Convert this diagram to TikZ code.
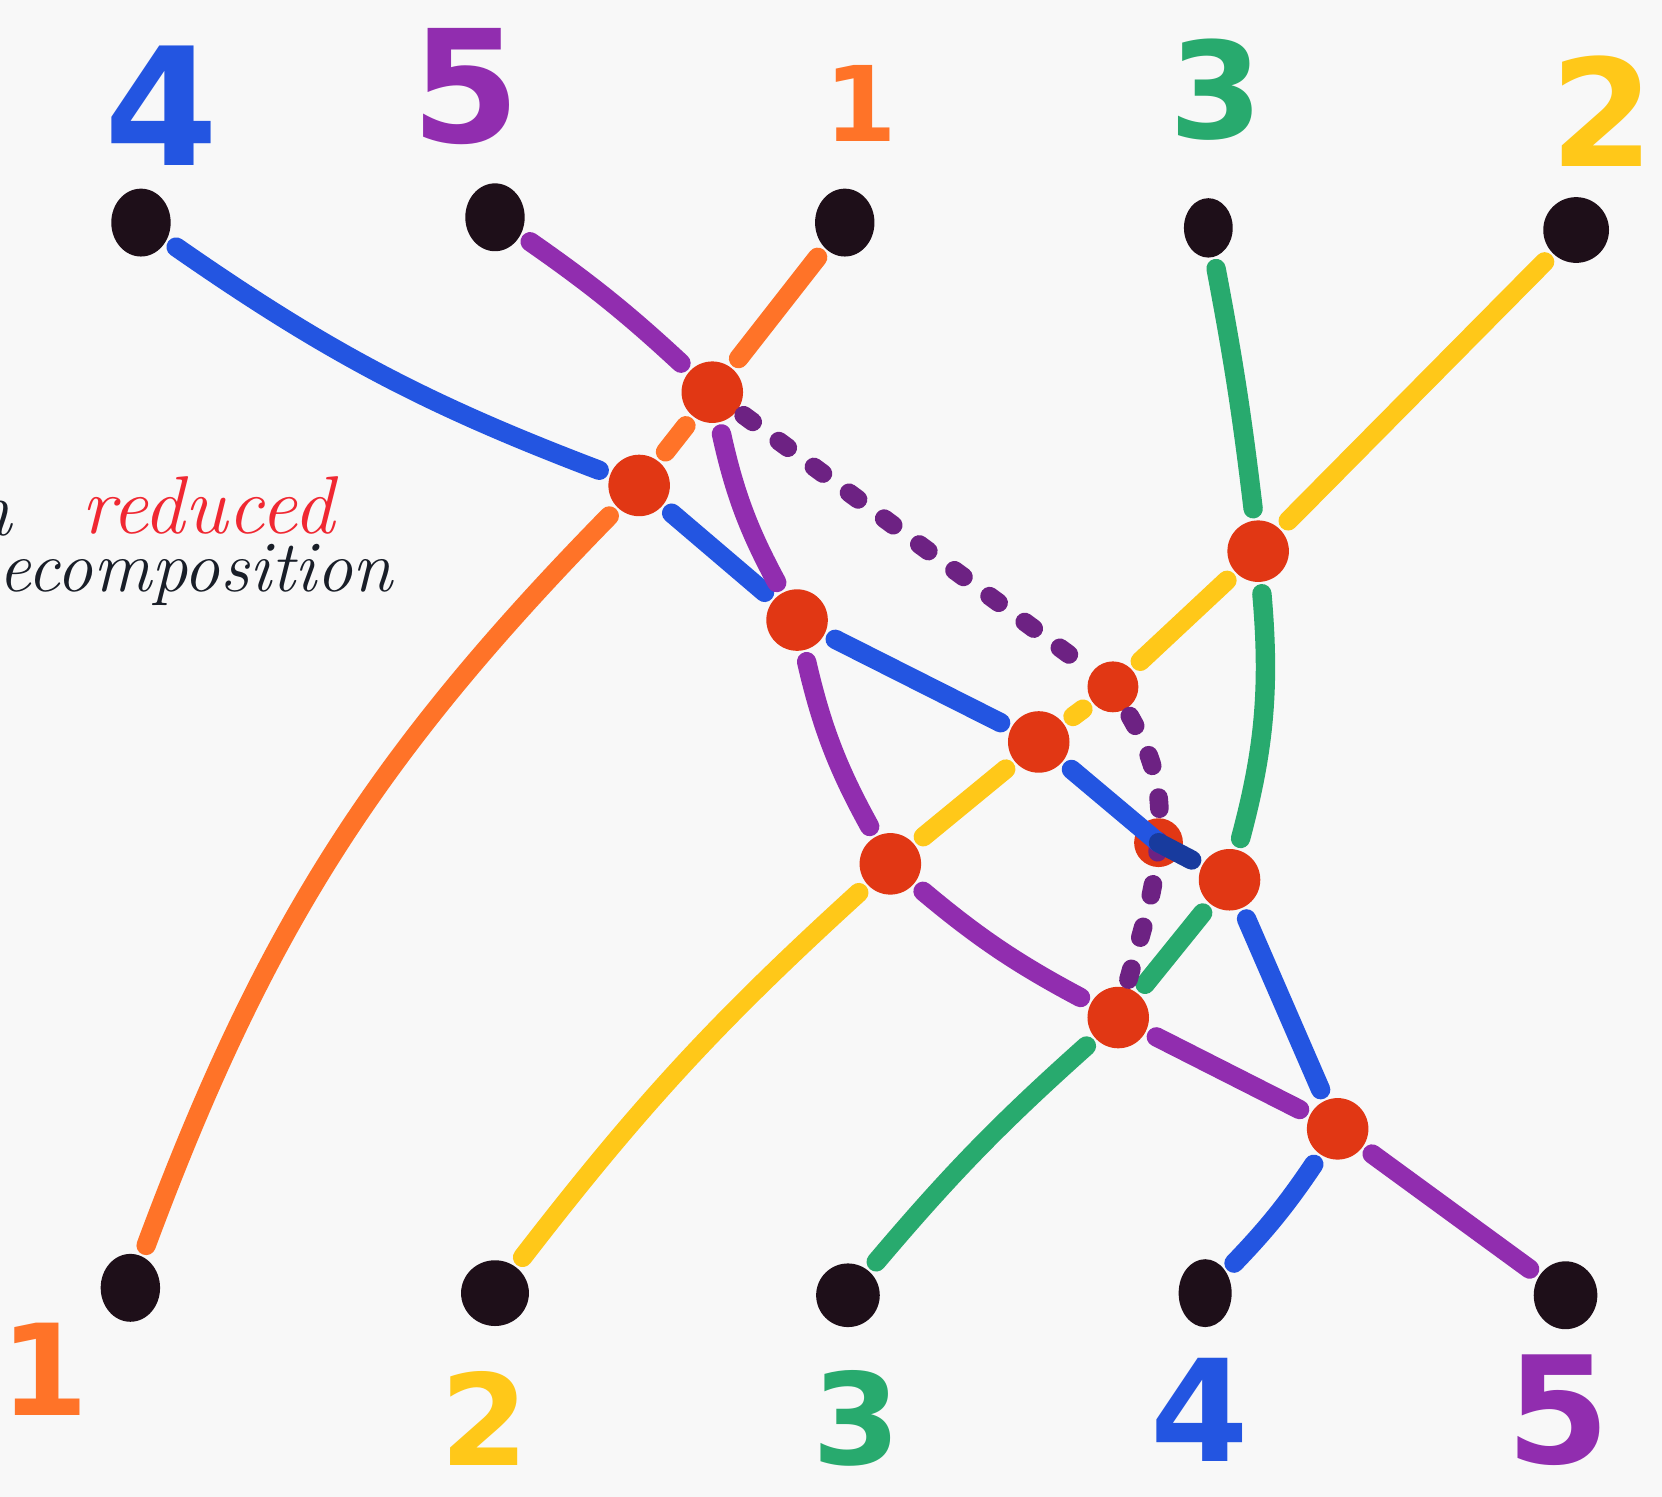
\documentclass[tikz,border=0pt]{standalone}
\usepackage{fontspec}
\newfontfamily\digfont{DejaVu Sans}
\usetikzlibrary{shapes.geometric}
\definecolor{cblue}{RGB}{35,85,225}
\definecolor{cpurple}{RGB}{145,45,175}
\definecolor{corange}{RGB}{255,115,40}
\definecolor{cgreen}{RGB}{40,170,110}
\definecolor{cyellow}{RGB}{255,200,25}
\definecolor{cred}{RGB}{225,55,20}
\definecolor{cblack}{RGB}{30,15,25}
\definecolor{paper}{RGB}{248,248,248}
\definecolor{cwrite}{RGB}{240,40,50}
\definecolor{ink}{RGB}{25,30,40}
\begin{document}
\begin{tikzpicture}[x=0.01cm,y=-0.01cm,
  stroke/.style={line width=5.2pt,line cap=round,shorten <=3pt,shorten >=3pt},
  dotline/.style={cpurple!75!black,line width=5pt,line cap=round,dash pattern=on 3pt off 8.7pt,shorten <=2pt},
  xing/.style={circle,fill=cred,minimum size=0.58cm,inner sep=0pt},
  enddot/.style={ellipse,fill=cblack,minimum width=0.56cm,minimum height=0.64cm,inner sep=0pt},
  digit/.style={font=\digfont\bfseries\fontsize{34}{34}\selectfont,inner sep=0pt},
  hand/.style={font=\itshape\fontsize{21}{21}\selectfont,inner sep=0pt}]
\fill[paper] (0,0) rectangle (1568,1412);
\useasboundingbox (0,0) rectangle (1568,1412);

% end dots
\node[enddot] (t4) at (133,210) {};
\node[enddot] (t5) at (467,205) {};
\node[enddot] (t1) at (797,210) {};
\node[enddot,minimum width=0.46cm,minimum height=0.56cm] (t3) at (1140,215) {};
\node[enddot,minimum width=0.62cm,minimum height=0.62cm] (t2) at (1487,217) {};
\node[enddot] (b1) at (123,1215) {};
\node[enddot,minimum width=0.64cm,minimum height=0.62cm] (b2) at (467,1220) {};
\node[enddot,minimum width=0.6cm,minimum height=0.6cm] (b3) at (800,1222) {};
\node[enddot,minimum width=0.5cm] (b4) at (1137,1220) {};
\node[enddot,minimum width=0.6cm] (b5) at (1477,1222) {};

% crossing dots
\node[xing] (A) at (672,370) {};
\node[xing] (B) at (603,458) {};
\node[xing] (C) at (752,585) {};
\node[xing] (D) at (1187,520) {};
\node[xing,minimum size=0.48cm] (E) at (1050,648) {};
\node[xing] (F) at (980,700) {};
\node[xing] (G) at (840,815) {};
\node[xing,minimum size=0.46cm] (H) at (1093,795) {};
\node[xing] (I) at (1160,830) {};
\node[xing] (J) at (1055,960) {};
\node[xing] (K) at (1262,1065) {};

% labels
\node[digit,text=cblue,font=\digfont\bfseries\fontsize{44}{44}\selectfont] (l4t) at (152,100) {4};
\node[digit,text=cpurple,font=\digfont\bfseries\fontsize{42}{42}\selectfont] (l5t) at (440,82) {5};
\node[digit,text=corange,font=\digfont\bfseries\fontsize{28}{28}\selectfont] (l1t) at (812,98) {1};
\node[digit,text=cgreen,font=\digfont\bfseries\fontsize{36}{36}\selectfont] (l3t) at (1147,85) {3};
\node[digit,text=cyellow,font=\digfont\bfseries\fontsize{40}{40}\selectfont] (l2t) at (1512,105) {2};
\node[digit,text=corange] (l1b) at (42,1292) {1};
\node[digit,text=cyellow] (l2b) at (457,1338) {2};
\node[digit,text=cgreen] (l3b) at (808,1338) {3};
\node[digit,text=cblue,font=\digfont\bfseries\fontsize{38}{38}\selectfont] (l4b) at (1132,1330) {4};
\node[digit,text=cpurple,font=\digfont\bfseries\fontsize{40}{40}\selectfont] (l5b) at (1470,1330) {5};

% text
\node[hand,text=ink,anchor=base east] (wn) at (12,505) {n};
\node[hand,text=cwrite,anchor=base west,font=\itshape\fontsize{22}{22}\selectfont] (wred) at (76,503) {reduced};
\node[hand,text=ink,anchor=base west,font=\itshape\fontsize{19.5}{19.5}\selectfont] (wdec) at (-2,558) {ecomposition};

% orange strand 1
\draw[stroke,corange] (t1) -- (A);
\draw[stroke,corange] (A) -- (B);
\draw[stroke,corange] (B) to[bend right=12] (b1);
% blue strand 4
\draw[stroke,cblue] (t4) to[bend right=7] (B);
\draw[stroke,cblue] (B) -- (C);
\draw[stroke,cblue] (C) -- (F);
\draw[stroke,cblue] (I) -- (K);
\draw[stroke,cblue] (K) to[bend left=5] (b4);
% purple strand 5
\draw[stroke,cpurple] (t5) to[bend left=4] (A);
\draw[stroke,cpurple] (A) to[bend right=8] (C);
\draw[stroke,cpurple] (C) to[bend right=8] (G);
\draw[stroke,cpurple] (G) to[bend right=6] (J);
\draw[stroke,cpurple] (J) -- (K);
\draw[stroke,cpurple] (K) -- (b5);
% green strand 3
\draw[stroke,cgreen] (t3) to[bend left=2] (D);
\draw[stroke,cgreen] (D) to[bend left=10] (I);
\draw[stroke,cgreen] (I) -- (J);
\draw[stroke,cgreen] (J) to[bend right=4] (b3);
% yellow strand 2
\draw[stroke,cyellow] (t2) -- (D);
\draw[stroke,cyellow] (D) -- (E);
\draw[stroke,cyellow] (E) -- (F);
\draw[stroke,cyellow] (F) -- (G);
\draw[stroke,cyellow] (G) to[bend right=5] (b2);
% dotted purple
\draw[dotline] (A) -- (E);
\draw[dotline] (E) to[out=-60,in=85] (H.center) to[out=-95,in=75] (J);
% blue through H
\draw[stroke,cblue,shorten >=0pt] (F) -- (H.center);
\draw[stroke,cblue!70!black,shorten <=0pt] (H.center) -- (I);
\end{tikzpicture}
\end{document}
